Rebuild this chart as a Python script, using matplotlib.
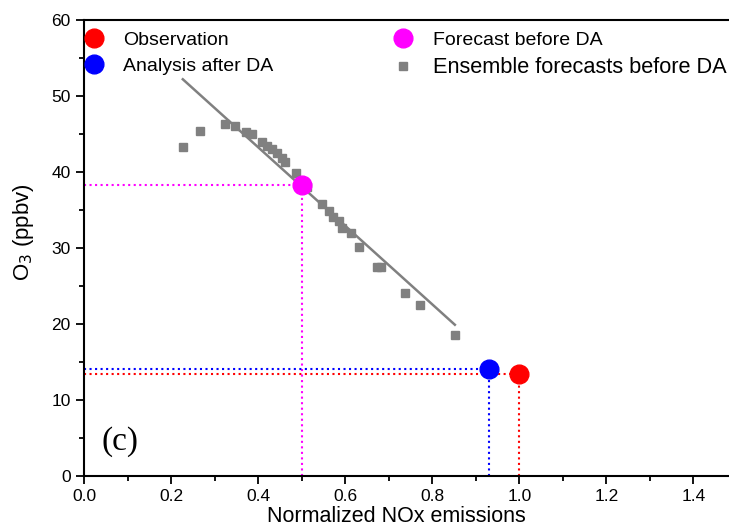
import numpy as np
import matplotlib.pyplot as plt
from matplotlib.ticker import MultipleLocator

plt.rcParams['font.family'] = ['Liberation Sans', 'DejaVu Sans']

# ensemble forecasts before DA: (normalized NOx emissions, O3 ppbv)
ens_x = [0.227, 0.266, 0.324, 0.347, 0.372, 0.386, 0.409, 0.420, 0.432, 0.443,
         0.455, 0.461, 0.487, 0.507, 0.512, 0.546, 0.562, 0.572, 0.585, 0.592,
         0.613, 0.631, 0.673, 0.682, 0.737, 0.771, 0.852]
ens_y = [43.3, 45.4, 46.3, 46.1, 45.3, 45.0, 43.9, 43.4, 43.0, 42.5,
         41.8, 41.3, 39.9, 38.0, 38.0, 35.8, 34.9, 34.1, 33.6, 32.6,
         32.0, 30.1, 27.5, 27.5, 24.1, 22.5, 18.6]

# linear fit through the ensemble
fit_x = [0.227, 0.852]
fit_y = [52.2, 19.9]

obs = (1.0, 13.4)
analysis = (0.93, 14.1)
forecast = (0.5, 38.3)

fig = plt.figure(figsize=(7.29, 5.30), dpi=100)
ax = fig.add_axes([0.1152, 0.1019, 0.8957, 0.8604])

# dotted guide lines from each point to the axes
for (px, py), c in [(forecast, 'magenta'), (analysis, 'blue'), (obs, 'red')]:
    ax.plot([0, px], [py, py], ls=':', color=c, lw=1.5, zorder=2)
    ax.plot([px, px], [0, py], ls=':', color=c, lw=1.5, zorder=2)

ax.plot(fit_x, fit_y, color='#808080', lw=1.8, zorder=3)
ax.plot(ens_x, ens_y, 's', color='#808080', ms=5.5, ls='none', zorder=4,
        label='Ensemble forecasts before DA')
ax.plot(*forecast, 'o', color='magenta', ms=13.5, zorder=5, label='Forecast before DA')
ax.plot(*obs, 'o', color='red', ms=13.5, zorder=5, label='Observation')
ax.plot(*analysis, 'o', color='blue', ms=13.5, zorder=5, label='Analysis after DA')

ax.set_xlim(0, 1.5)
ax.set_ylim(0, 60)
ax.xaxis.set_major_locator(MultipleLocator(0.2))
ax.xaxis.set_minor_locator(MultipleLocator(0.1))
ax.yaxis.set_major_locator(MultipleLocator(10))
ax.yaxis.set_minor_locator(MultipleLocator(5))
ax.set_xticks(np.arange(0, 1.41, 0.2))
ax.set_xticklabels(['%.1f' % v for v in np.arange(0, 1.41, 0.2)])
ax.tick_params(which='both', direction='out', labelsize=12.5, width=1.3)
ax.tick_params(which='major', length=6)
ax.tick_params(which='minor', length=3.5)
ax.tick_params(top=False, right=False, which='both')
for s in ax.spines.values():
    s.set_linewidth(1.5)
ax.spines['right'].set_visible(False)

ax.set_xlabel('Normalized NOx emissions', fontsize=15.5)
ax.set_ylabel('O$_3$ (ppbv)', fontsize=16)
ax.xaxis.set_label_coords(0.478, -0.065)
ax.yaxis.set_label_coords(-0.073, 0.535)

ax.text(0.04, 3.5, '(c)', fontsize=24, family='Liberation Serif')

h, l = ax.get_legend_handles_labels()
order = [2, 3, 1, 0]
leg = ax.legend([h[i] for i in order], [l[i] for i in order], ncol=2, frameon=False,
                loc='upper left', bbox_to_anchor=(0.0, 0.976), fontsize=14,
                borderpad=0, borderaxespad=0, handlelength=1.0,
                columnspacing=6.2, handletextpad=1.0, labelspacing=0.45)
leg.get_texts()[3].set_fontsize(15.7)
for lh in leg.legend_handles[:3]:
    lh.set_markersize(13.5)

fig.savefig('out.png', dpi=100)
